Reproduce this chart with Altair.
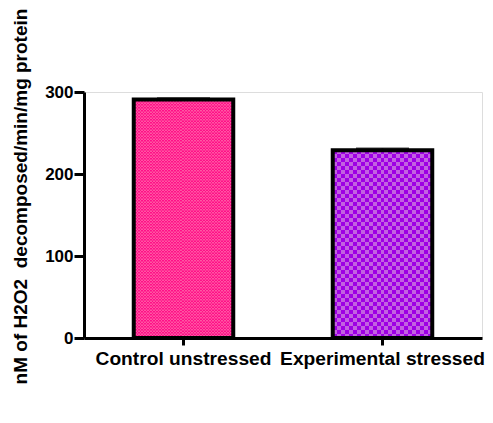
import altair as alt
import pandas as pd

# ---- data ----
categories = ["Control unstressed", "Experimental stressed"]
means = [291, 229]
sems = [1.5, 2.0]
y_ticks = [0, 100, 200, 300]
y_title = "nM of H2O2\u00a0 decomposed/min/mg protein"

# ---- style ----
WIDTH, HEIGHT = 398, 246
YMAX = 300
dark = ["#FF1088", "#9E00E4"]
light = ["#FF55A2", "#C262E0"]
cell_px = [1.5, 4.0]
BAND_PX = 99.5
FONT = "Liberation Sans"

bar_df = pd.DataFrame({
    "cat": categories,
    "mean": means,
    "upper": [m + s for m, s in zip(means, sems)],
})


def stripes(c1, c2, n):
    stops = []
    for k in range(n):
        col = c1 if k % 2 == 0 else c2
        stops.append(alt.GradientStop(offset=k / n, color=col))
        stops.append(alt.GradientStop(offset=(k + 1) / n, color=col))
    return alt.Gradient(gradient="linear", stops=stops, x1=0, x2=1, y1=0, y2=0)


x_axis = alt.Axis(
    title=None, labelAngle=0, labelFont=FONT, labelFontWeight="bold",
    labelFontSize=19.2, labelColor="black", labelPadding=4, labelLimit=400,
    tickSize=7, tickWidth=3, tickColor="black",
    domainColor="black", domainWidth=3, grid=False,
)
y_axis = alt.Axis(
    values=y_ticks, title=y_title,
    titleFont=FONT, titleFontWeight="bold", titleFontSize=19, titleColor="black",
    titleAngle=270, titleX=-58, titleY=104, titleAlign="center",
    titleBaseline="alphabetic",
    labelFont=FONT, labelFontWeight="bold", labelFontSize=17, labelColor="black",
    labelPadding=1, tickSize=10, tickWidth=3, tickColor="black",
    domainColor="black", domainWidth=3, grid=False,
)
x_scale = alt.Scale(domain=categories, paddingInner=0.5, paddingOuter=0.25)
y_scale = alt.Scale(domain=[0, YMAX], nice=False, zero=True)


def X():
    return alt.X("cat:N", sort=categories, scale=x_scale, axis=x_axis)


def Y(field):
    return alt.Y(f"{field}:Q", scale=y_scale, axis=y_axis)


layers = []
for i, cat in enumerate(categories):
    n = int(round(BAND_PX / cell_px[i]))
    base = alt.Chart(bar_df).transform_filter(alt.datum.cat == cat).mark_bar(
        fill=stripes(dark[i], light[i], n), strokeWidth=0
    ).encode(x=X(), y=Y("mean"))
    layers.append(base)
    # checker rows (every other row inverted)
    cell_u = cell_px[i] * YMAX / HEIGHT
    rows = []
    k = 1
    while k * cell_u < means[i]:
        rows.append({"cat": cat, "y0": k * cell_u, "y1": min((k + 1) * cell_u, means[i])})
        k += 2
    rows_df = pd.DataFrame(rows)
    over = alt.Chart(rows_df).mark_bar(
        fill=stripes(light[i], dark[i], n), strokeWidth=0
    ).encode(x=X(), y=Y("y0"), y2="y1")
    layers.append(over)

outline = alt.Chart(bar_df).mark_bar(
    fillOpacity=0, stroke="black", strokeWidth=4
).encode(x=X(), y=Y("mean"))
err = alt.Chart(bar_df).mark_rule(color="black", strokeWidth=2).encode(
    x=X(), y=Y("mean"), y2="upper"
)
cap = alt.Chart(bar_df).mark_tick(color="black", thickness=2, size=53).encode(
    x=X(), y=Y("upper")
)

chart = alt.layer(*layers, outline, err, cap).properties(
    width=WIDTH, height=HEIGHT,
    autosize=alt.AutoSizeParams(type="none"),
    padding={"left": 76, "top": 84, "right": 3, "bottom": 77},
).configure_view(strokeWidth=0).configure(background="white")

chart.save("out.html", embed_options={"renderer": "svg", "actions": False})
